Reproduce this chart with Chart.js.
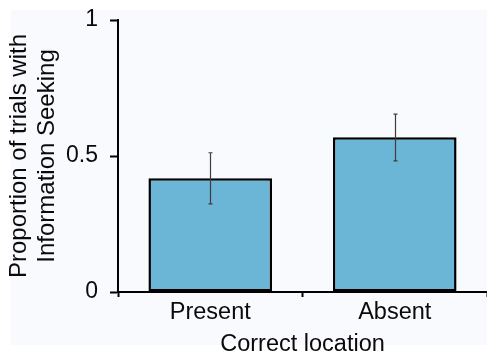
<!DOCTYPE html>
<html>
<head>
<meta charset="utf-8">
<script src="https://cdn.jsdelivr.net/npm/chart.js@4/dist/chart.umd.min.js"></script>
<style>
  html, body { margin: 0; padding: 0; background: #ffffff; }
  #wrap { width: 487px; height: 356px; position: relative; }
</style>
</head>
<body>
<div id="wrap"><canvas id="c" width="487" height="356"></canvas></div>
<script>
// ---- data ----
const categories = ["Present", "Absent"];
const proportions = [0.418, 0.569];
const errorUpper = [0.512, 0.654];
const errorLower = [0.324, 0.482];
const yTickValues = [0, 0.5, 1];
const yTickLabels = ["0", "0.5", "1"];
const xTitle = "Correct location";
const yTitle = ["Proportion of trials with", "Information Seeking"];

const FONT = "'Liberation Sans', Arial, sans-serif";

const bgPlugin = {
  id: 'bg',
  beforeDraw(chart) {
    const ctx = chart.ctx;
    ctx.save();
    ctx.fillStyle = '#ffffff';
    ctx.fillRect(0, 0, chart.width, chart.height);
    ctx.fillStyle = '#f9fafd';
    ctx.fillRect(11, 10, chart.width - 11, 335);
    ctx.restore();
  }
};

const errorBarPlugin = {
  id: 'errbars',
  afterDatasetsDraw(chart) {
    const ctx = chart.ctx;
    const y = chart.scales.y;
    const meta = chart.getDatasetMeta(0);
    ctx.save();
    ctx.strokeStyle = '#433b3b';
    ctx.lineWidth = 1.2;
    meta.data.forEach((bar, i) => {
      const x = Math.round(bar.x) + 0.5;
      const yt = y.getPixelForValue(errorUpper[i]);
      const yb = y.getPixelForValue(errorLower[i]);
      ctx.beginPath();
      ctx.moveTo(x, yt); ctx.lineTo(x, yb);
      ctx.moveTo(x - 2, yt); ctx.lineTo(x + 2, yt);
      ctx.moveTo(x - 2, yb); ctx.lineTo(x + 2, yb);
      ctx.stroke();
    });
    ctx.restore();
  }
};

new Chart(document.getElementById('c'), {
  type: 'bar',
  data: {
    labels: categories,
    datasets: [{
      data: proportions,
      backgroundColor: '#6bb5d7',
      borderColor: '#000000',
      borderWidth: 2.5,
      borderSkipped: false,
      barPercentage: 0.67,
      categoryPercentage: 1.0
    }]
  },
  options: {
    responsive: false,
    animation: false,
    devicePixelRatio: 1,
    layout: { padding: { top: 20, right: 0, left: 0, bottom: 0 } },
    plugins: {
      legend: { display: false },
      tooltip: { enabled: false },
      title: { display: false }
    },
    scales: {
      x: {
        offset: true,
        grid: {
          display: true,
          drawOnChartArea: false,
          drawTicks: true,
          tickLength: 5,
          tickWidth: 2,
          tickColor: '#000000',
          offset: true
        },
        border: { display: true, color: '#000000', width: 2 },
        ticks: {
          color: '#0a0a0a',
          font: { family: FONT, size: 23.5 },
          padding: 1,
          maxRotation: 0
        },
        title: {
          display: true,
          text: xTitle,
          color: '#0a0a0a',
          font: { family: FONT, size: 23.5, lineHeight: 1.0 },
          padding: { top: 0, bottom: 0 }
        },
        afterFit(scale) {
          scale.height = 64;
          scale.paddingLeft = 0; scale.paddingRight = 0;
        }
      },
      y: {
        min: 0,
        max: 1,
        afterBuildTicks(scale) {
          scale.ticks = yTickValues.map(v => ({ value: v }));
        },
        grid: {
          display: true,
          drawOnChartArea: false,
          drawTicks: true,
          tickLength: 8,
          tickWidth: 2,
          tickColor: '#000000'
        },
        border: { display: true, color: '#000000', width: 2 },
        ticks: {
          color: '#0a0a0a',
          font: { family: FONT, size: 23 },
          padding: 12,
          callback: (v, i) => yTickLabels[yTickValues.indexOf(v)]
        },
        title: {
          display: true,
          text: yTitle,
          color: '#0a0a0a',
          font: { family: FONT, size: 24, lineHeight: 1.15 },
          padding: { top: 6, bottom: 0 }
        },
        afterFit(scale) {
          scale.width = 118;
          scale.paddingTop = 0; scale.paddingBottom = 0;
        }
      }
    }
  },
  plugins: [bgPlugin, errorBarPlugin]
});
</script>
</body>
</html>
